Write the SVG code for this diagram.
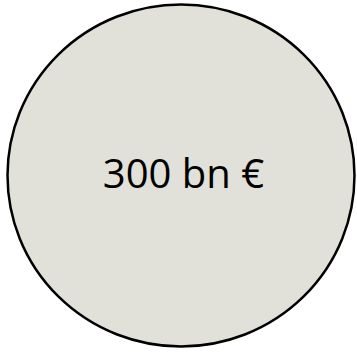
<svg xmlns="http://www.w3.org/2000/svg" width="357" height="352" viewBox="0 0 357 352">
<style>
.node-shape{fill:#E1E0D9;stroke:#000;stroke-width:2.5}
.label{font-family:"Open Sans","DejaVu Sans",sans-serif;font-size:40px;fill:#000}
</style>
<rect width="357" height="352" fill="#fff"/>
<g id="connectors"></g>
<g id="node-1">
<ellipse class="node-shape" cx="181" cy="175.5" rx="173.5" ry="171"/>
<text class="label" x="183.5" y="188" text-anchor="middle">300 bn €</text>
</g>
</svg>
